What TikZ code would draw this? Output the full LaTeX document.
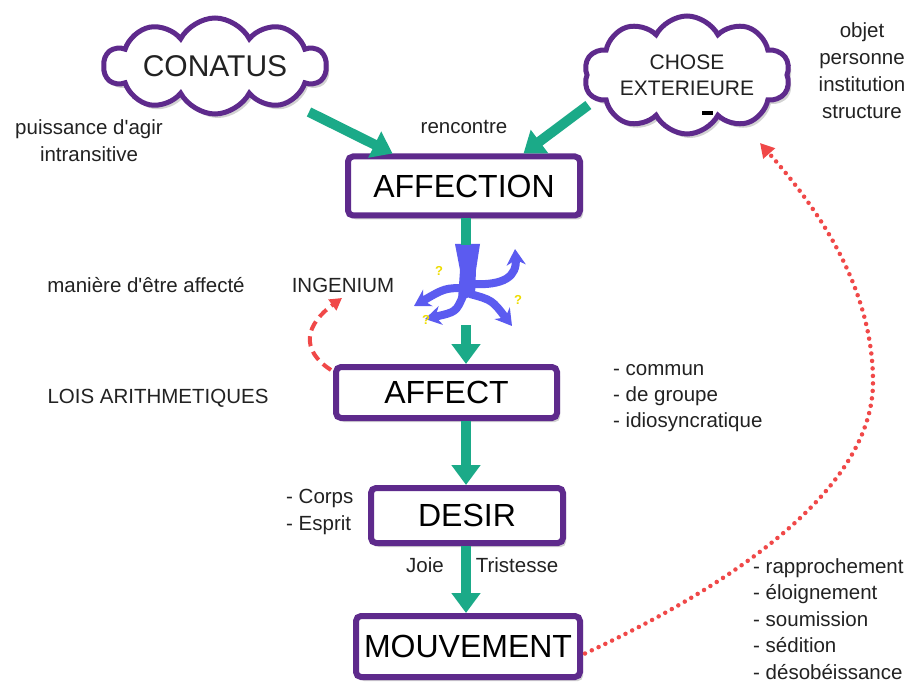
\documentclass[tikz,border=0pt]{standalone}
\usepackage{fontspec}
\setmainfont{Liberation Sans}
\usetikzlibrary{shapes.symbols,arrows.meta,shadows,calc}
\definecolor{vio}{HTML}{5E2A8C}
\definecolor{vert}{HTML}{1BAA88}
\definecolor{rouge}{HTML}{F04848}
\definecolor{bleu}{HTML}{5B5BF0}
\definecolor{jaune}{HTML}{EEDD00}
\definecolor{txt}{HTML}{222222}
\begin{document}
\begin{tikzpicture}[x=1pt,y=-1pt,
  shad/.style={drop shadow={shadow xshift=3pt,shadow yshift=-4pt,opacity=0.35,fill=gray}},
  box/.style={draw=vio, line width=6pt, rounded corners=5pt, fill=white, inner sep=0pt,
    font=\fontsize{32}{38}\selectfont, text=black, shad},
  nuage/.style={cloud, cloud puffs=10, cloud puff arc=125, cloud ignores aspect, draw=vio,
    line width=5pt, fill=white, inner sep=0pt, text=txt, shad},
  lbl/.style={font=\fontsize{20.5}{27}\selectfont, text=txt, inner sep=0pt},
  flow/.style={draw=vert, line width=10pt, -{Triangle[width=28pt,length=20pt]}},
  flowline/.style={draw=vert, line width=10pt},
  blarm/.style={draw=bleu, line width=8pt, -{Stealth[length=16pt,width=19pt]}},
  qm/.style={font=\bfseries\fontsize{13}{13}\selectfont, text=jaune, inner sep=0pt}]
\useasboundingbox (0,0) rectangle (915,684);
\fill[white] (0,0) rectangle (915,684);

% clouds
\node[nuage, minimum width=222pt, minimum height=96pt, font=\fontsize{30}{36}\selectfont] (con) at (215,66) {CONATUS};
\node[nuage, minimum width=206pt, minimum height=118pt, align=center,
      font=\fontsize{21}{26}\selectfont] (ce) at (687,75) {CHOSE\\EXTERIEURE};
\fill[black] (702,111) rectangle (713,115);

% boxes
\node[box, minimum width=232pt, minimum height=59pt] (aff) at (464,186) {AFFECTION};
\node[box, minimum width=221pt, minimum height=51pt] (afc) at (446.5,392.5) {AFFECT};
\node[box, minimum width=192pt, minimum height=55pt] (des) at (467,515.5) {DESIR};
\node[box, minimum width=224pt, minimum height=61pt] (mv) at (468,646.5) {MOUVEMENT};

% figure (ingenium)
\node[minimum width=120pt, minimum height=80pt, inner sep=0pt] (fig) at (466,285) {};
\fill[bleu] (455,244) -- (480,244) -- (476,270) -- (475,296) -- (458,300) -- (460,270) -- cycle;
\draw[blarm] (467,288) .. controls (445,288) .. (414,306);
\draw[blarm] (463,296) .. controls (456,312) .. (425,319);
\draw[blarm] (470,294) .. controls (492,300) .. (512,326);
\draw[blarm] (470,284) .. controls (505,286) and (517,276) .. (515,249);
\node[qm] (q1) at (439,271) {?};
\node[qm] (q2) at (518,300) {?};
\node[qm] (q3) at (426,320) {?};

% green connectors
\draw[flow] ($(con.center)+(94,46)$) -- ($(aff.north west)!0.2!(aff.north east)$);
\draw[flow] ($(ce.west)+(4,30)$) -- ($(aff.north west)!0.75!(aff.north east)$);
\draw[flowline] (fig.north |- aff.south) -- (fig.north);
\draw[flow] (fig.south) -- (fig.south |- afc.north);
\draw[flow] (fig.south |- afc.south) -- (fig.south |- des.north);
\draw[flow] (fig.south |- des.south) -- (fig.south |- mv.north);

% labels
\node[lbl, align=center] (pa) at (89,141) {puissance d\textquotesingle agir\\intransitive};
\node[lbl] (ren) at (464,127) {rencontre};
\node[lbl, align=center] (obj) at (862,71) {objet\\personne\\institution\\structure};
\node[lbl] (man) at (146,285) {manière d\textquotesingle être affecté};
\node[lbl] (ing) at (343,285) {INGENIUM};
\node[lbl] (lois) at (158,398) {LOIS ARITHMETIQUES};
\node[lbl, align=left, anchor=west, font=\fontsize{20.5}{26}\selectfont] (com) at (613,398)
   {- commun\\- de groupe\\- idiosyncratique};
\node[lbl, align=left, anchor=west, font=\fontsize{20.5}{27}\selectfont] (cor) at (286,512)
   {- Corps\\- Esprit};
\node[lbl] (joie) at (425,565) {Joie};
\node[lbl] (tri) at (517,565) {Tristesse};
\node[lbl, align=left, anchor=west, font=\fontsize{20.5}{26.5}\selectfont] (rap) at (753,619)
   {- rapprochement\\- éloignement\\- soumission\\- sédition\\- désobéissance};

% red arrows
\coordinate (ingtip) at (342,298);
\draw[rouge, line width=4pt, dash pattern=on 10pt off 6pt, -{Triangle[width=13pt,length=12pt]}]
  ($(afc.north west)+(-2,6)$) .. controls (300,350) and (305,325) .. (ingtip);
\coordinate (cetip) at (760,143);
\draw[rouge, line width=4.5pt, line cap=round, dash pattern=on 0pt off 7.5pt,
      -{Triangle[width=15pt,length=14pt]}]
  ($(mv.east)+(2,7)$) .. controls (700,600) and (875,500) .. (873,380)
  .. controls (872,280) and (810,200) .. (cetip);
\end{tikzpicture}
\end{document}
